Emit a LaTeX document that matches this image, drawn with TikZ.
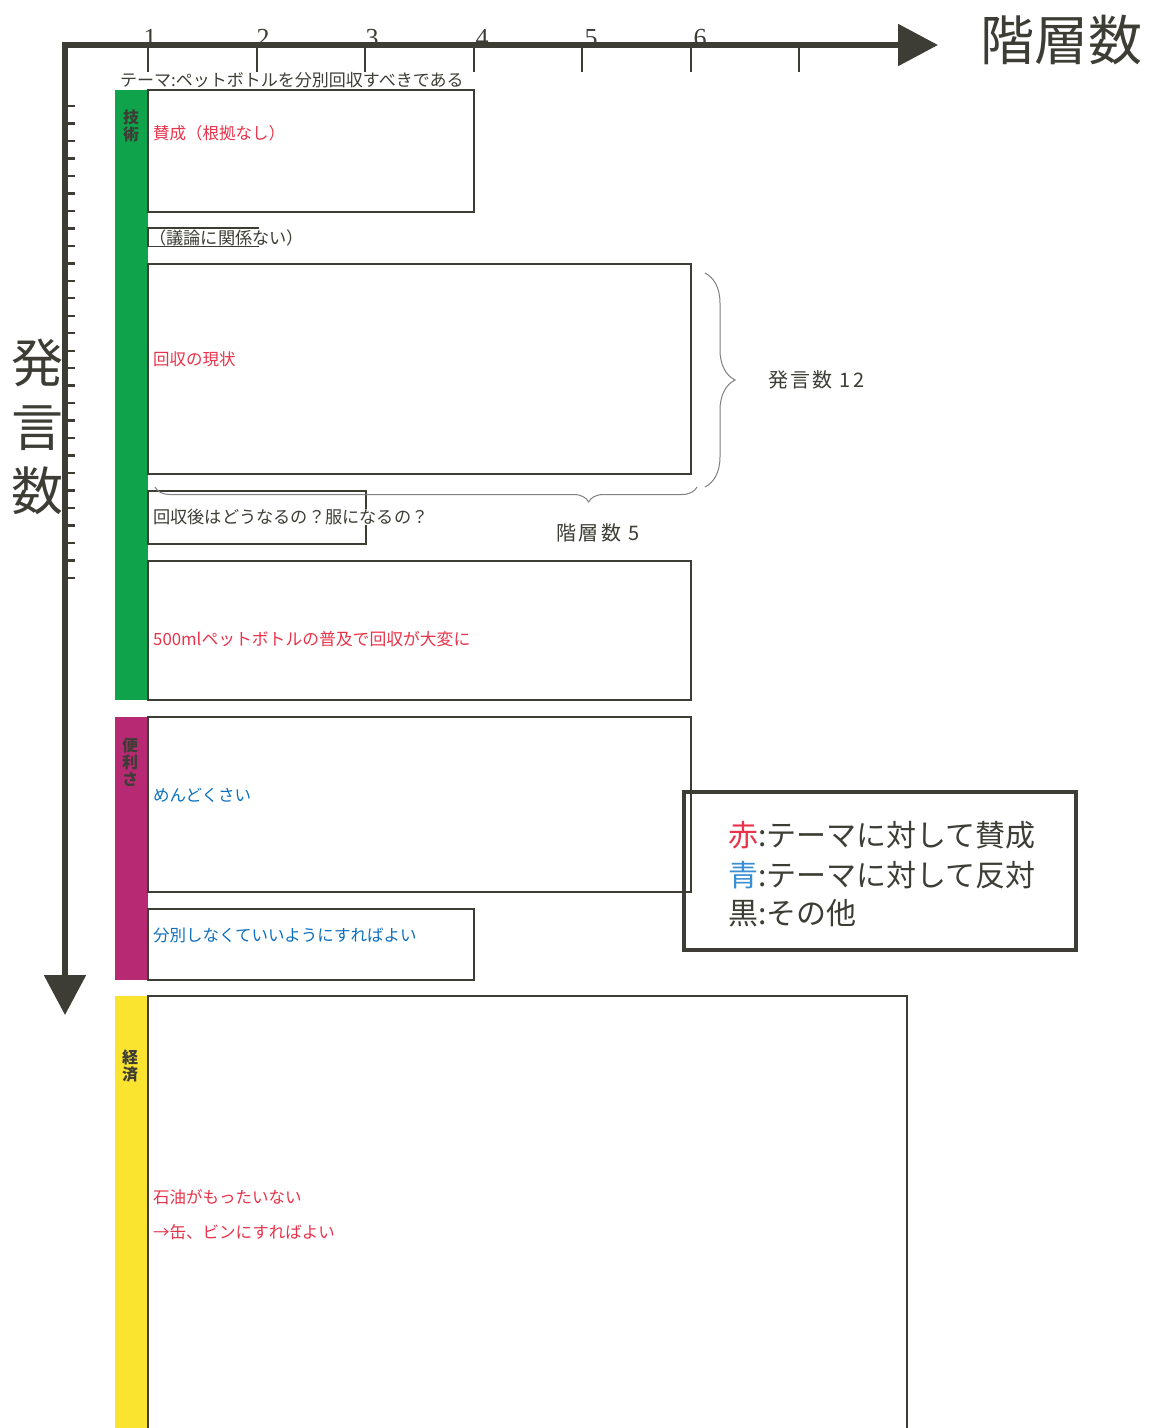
\documentclass[tikz,border=0pt]{standalone}
\usepackage{fontspec}
\newfontfamily\jp{Noto Sans CJK JP}
\newfontfamily\jpsp[LetterSpace=12]{Noto Sans CJK JP}
\newfontfamily\numfont{Liberation Serif}
\usetikzlibrary{arrows.meta,decorations.pathreplacing}
\definecolor{ink}{HTML}{3D3D36}
\definecolor{bargreen}{HTML}{0FA34B}
\definecolor{barmag}{HTML}{B72A73}
\definecolor{baryel}{HTML}{FBE42F}
\definecolor{txtred}{HTML}{E8334A}
\definecolor{txtblue}{HTML}{0B6FBF}
\definecolor{legblue}{HTML}{3A8FD4}
\definecolor{bracegray}{HTML}{808080}
\tikzset{
  axisline/.style={draw=ink,line width=5.5pt,{Triangle[length=40pt,width=41pt]}-{Triangle[length=40pt,width=41pt]}},
  tickline/.style={draw=ink,line width=2.4pt},
  boxline/.style={draw=ink,line width=2.6pt},
  bartext/.style={font=\jp\bfseries\fontsize{16}{17}\selectfont,text=ink,align=center,inner sep=0pt},
  itemtext/.style={font=\jp\fontsize{16.5}{20}\selectfont,anchor=west,inner sep=0pt},
  bigitem/.style={font=\jp\fontsize{17.2}{20}\selectfont},
  miditem/.style={font=\jp\fontsize{16.8}{20}\selectfont},
  numlabel/.style={font=\numfont\fontsize{26}{26}\selectfont,text=ink,anchor=base,inner sep=0pt},
  bracelabel/.style={font=\jpsp\fontsize{20}{20}\selectfont,text=ink,inner sep=0pt},
  legtext/.style={font=\jp\fontsize{30}{34}\selectfont,text=ink,anchor=west,inner sep=0pt},
  bracedeco/.style={draw=bracegray,line width=1pt,decorate},
}
\begin{document}
\begin{tikzpicture}[x=1pt,y=-1pt]
\useasboundingbox (0,0) rectangle (1157,1428);
% axes
\coordinate (O) at (65,45);
\coordinate (xtip) at (938,45);
\coordinate (ytip) at (65,1015);
\draw[axisline] (xtip) -- (O) -- (ytip);
\foreach \x in {148,257,365,474,582,691,799}{
  \draw[tickline] (\x,45) -- (\x,72);
}
\foreach \i in {0,...,27}{
  \draw[tickline] (65,{106+\i*17.48}) -- (75,{106+\i*17.48});
}
\node[numlabel] (n1) at (150,46) {1};
\node[numlabel] (n2) at (263,46) {2};
\node[numlabel] (n3) at (372,46) {3};
\node[numlabel] (n4) at (482,46) {4};
\node[numlabel] (n5) at (591,46) {5};
\node[numlabel] (n6) at (700,46) {6};
\node[font=\jp\fontsize{54}{54}\selectfont,text=ink,inner sep=0pt] (xtitle) at (1061,40) {階層数};
\node[font=\jp\fontsize{52}{64}\selectfont,text=ink,align=center,inner sep=0pt] (ytitle) at (37,427) {発\\言\\数};
\node[font=\jp\fontsize{17}{20}\selectfont,text=ink,anchor=west,inner sep=0pt] (theme) at (120,80) {テーマ:ペットボトルを分別回収すべきである};
% bars
\fill[bargreen] (115,90) rectangle (148,700);
\fill[barmag] (115,717) rectangle (148,980);
\fill[baryel] (115,996) rectangle (148,1428);
\node[bartext] (c1) at (131,125.5) {技\\術};
\node[bartext] (c2) at (130,762) {便\\利\\さ};
\node[bartext] (c3) at (130,1066.5) {経\\済};
% boxes
\draw[boxline] (148,90) rectangle (474,212);
\draw[boxline] (148,228) rectangle (258,246);
\draw[boxline] (148,264) rectangle (691,474);
\draw[boxline] (148,491) rectangle (366,544);
\draw[boxline] (148,561) rectangle (691,700);
\draw[boxline] (148,717) rectangle (691,892);
\draw[boxline] (148,909) rectangle (474,980);
\draw[boxline] (148,1428) -- (148,996) -- (907,996) -- (907,1428);
% box texts
\node[itemtext,text=txtred] (t1) at (153,133) {賛成（根拠なし）};
\node[itemtext,bigitem,text=ink,fill=white] (t2) at (149,237.5) {（議論に関係ない）};
\node[itemtext,text=txtred] (t3) at (153,359) {回収の現状};
\node[itemtext,bigitem,text=ink,fill=white] (t4) at (153,517) {回収後はどうなるの？服になるの？};
\node[itemtext,miditem,text=txtred] (t5) at (153,639) {500mlペットボトルの普及で回収が大変に};
\node[itemtext,text=txtblue] (t6) at (153,795) {めんどくさい};
\node[itemtext,text=txtblue] (t7) at (153,935) {分別しなくていいようにすればよい};
\node[itemtext,text=txtred] (t8) at (153,1197) {石油がもったいない};
\node[itemtext,text=txtred] (t9) at (153,1232) {→缶、ビンにすればよい};
% braces
\coordinate (br1a) at (705,273);
\coordinate (br1b) at (705,487);
\draw[bracedeco,decoration={brace,amplitude=30pt}] (br1a) -- (br1b);
\node[bracelabel,anchor=west] (bl1) at (768,380) {発言数 12};
\coordinate (br2a) at (697,487);
\coordinate (br2b) at (155,487);
\draw[bracedeco,decoration={brace,amplitude=15pt,aspect=0.2}] (br2a) -- (br2b);
\node[bracelabel] (bl2) at (598,533) {階層数 5};
% legend
\draw[draw=ink,line width=3.8pt] (684,792) rectangle (1076,950);
\node[legtext] (l1) at (728,835) {\textcolor{txtred}{赤}:テーマに対して賛成};
\node[legtext] (l2) at (728,875) {\textcolor{legblue}{青}:テーマに対して反対};
\node[legtext] (l3) at (728,913) {黒:その他};
\end{tikzpicture}
\end{document}
